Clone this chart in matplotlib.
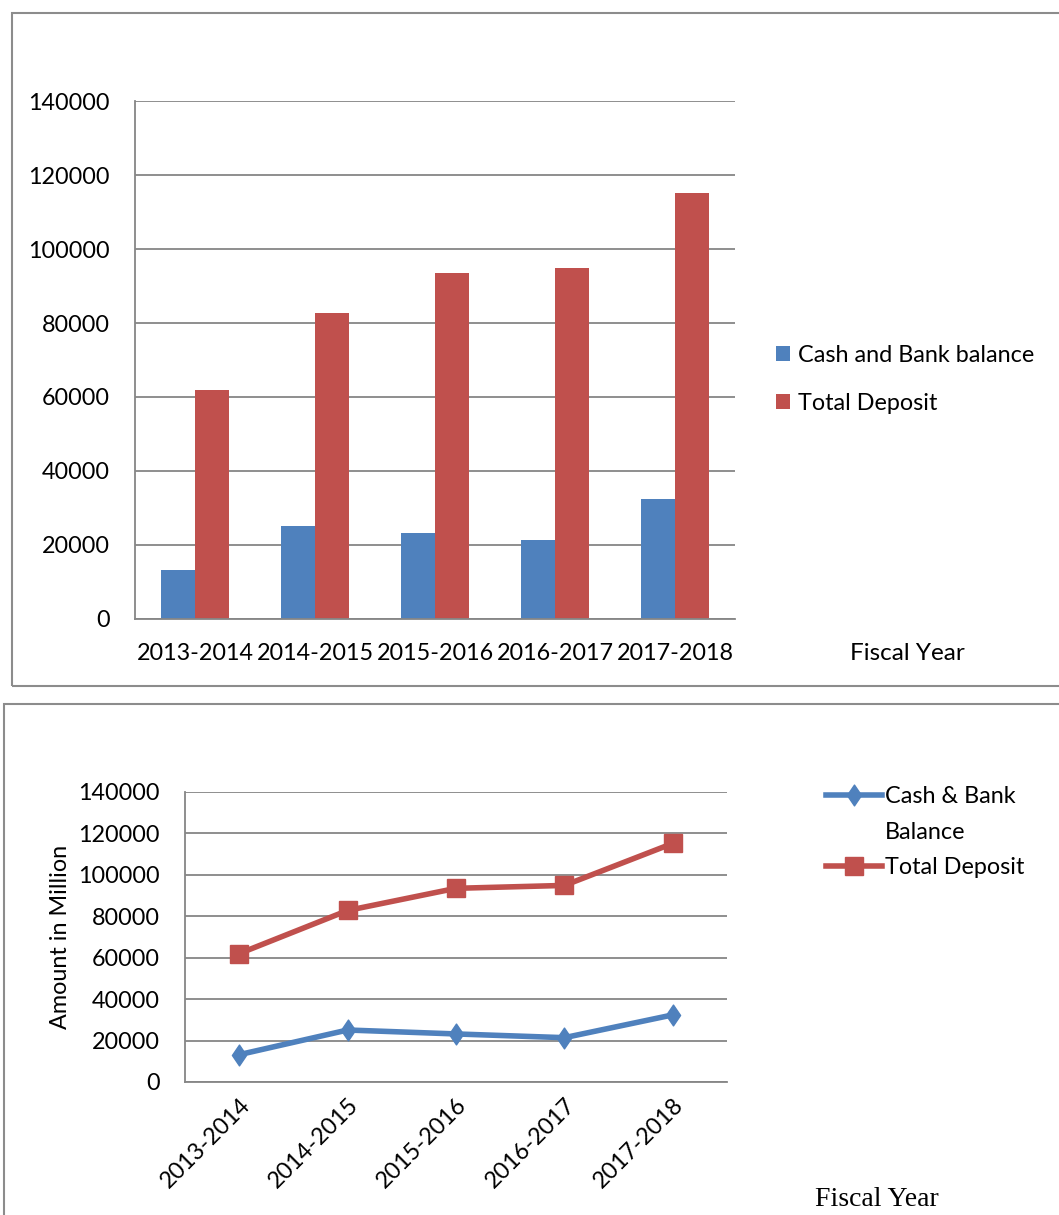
import matplotlib
matplotlib.use("Agg")
import matplotlib.pyplot as plt
from matplotlib.patches import Rectangle
from matplotlib.lines import Line2D
from matplotlib.path import Path
import numpy as np

# Fiscal years and balances (amount in million)
years = ["2013-2014", "2014-2015", "2015-2016", "2016-2017", "2017-2018"]
cash_bank = [13200, 25100, 23200, 21400, 32400]
total_deposit = [62000, 82800, 93500, 94900, 115200]
y_ticks = [0, 20000, 40000, 60000, 80000, 100000, 120000, 140000]

BLUE = "#4F81BD"
RED = "#C0504D"
GRID = "#868686"
BORDER = "#8C8C8C"
SANS = ["Lato", "DejaVu Sans"]
SERIF = ["Liberation Serif", "DejaVu Serif"]
FS = 16.8

# Tall, narrow diamond marker
DIAMOND = Path([(0, 1), (0.68, 0), (0, -1), (-0.68, 0), (0, 1)],
               [Path.MOVETO, Path.LINETO, Path.LINETO, Path.LINETO, Path.CLOSEPOLY])

W, H = 1059, 1215
fig = plt.figure(figsize=(W / 100, H / 100), dpi=100)


def px_axes(left, top, right, bottom):
    return fig.add_axes([left / W, 1 - bottom / H, (right - left) / W, (bottom - top) / H])


def style_axes(ax):
    ax.set_ylim(0, 140000)
    ax.set_yticks(y_ticks)
    ax.set_yticklabels([str(v) for v in y_ticks], fontsize=FS, family=SANS)
    ax.yaxis.grid(True, color=GRID, linewidth=1.3)
    ax.set_axisbelow(True)
    for s in ("top", "right"):
        ax.spines[s].set_visible(False)
    for s in ("left", "bottom"):
        ax.spines[s].set_color(GRID)
        ax.spines[s].set_linewidth(1.3)
    ax.tick_params(axis="both", length=0)
    ax.tick_params(axis="y", pad=18)


# Chart frames
fig.add_artist(Rectangle((12 / W, 1 - 686 / H), 1.2, (686 - 13) / H,
                         transform=fig.transFigure, fill=False,
                         edgecolor=BORDER, linewidth=1.5))
fig.add_artist(Rectangle((4 / W, -0.1), 1.2, 0.1 + (1 - 704 / H),
                         transform=fig.transFigure, fill=False,
                         edgecolor=BORDER, linewidth=1.5))

# --- Clustered bar chart ---
ax1 = px_axes(135, 101, 735, 619)
x = np.arange(len(years))
bw = 0.283
ax1.bar(x - bw / 2, cash_bank, width=bw, color=BLUE, label="Cash and Bank balance")
ax1.bar(x + bw / 2, total_deposit, width=bw, color=RED, label="Total Deposit")
ax1.set_xlim(-0.5, len(years) - 0.5)
style_axes(ax1)
ax1.set_xticks(x)
ax1.set_xticklabels(years, fontsize=FS, family=SANS)
ax1.tick_params(axis="x", pad=17)
ax1.legend(loc="center left", bbox_to_anchor=(1.033, 0.463), frameon=False,
           prop={"family": SANS, "size": FS}, handlelength=0.6, handleheight=0.6,
           handletextpad=0.35, labelspacing=1.17)
fig.text(907 / W, 1 - 653 / H, "Fiscal Year", fontsize=17.5, family=SANS,
         ha="center", va="center")

# --- Line chart ---
ax2 = px_axes(185, 792, 727, 1082)
cash_line, = ax2.plot(x, cash_bank, color=BLUE, linewidth=4, marker=DIAMOND,
                      markersize=15)
dep_line, = ax2.plot(x, total_deposit, color=RED, linewidth=4, marker="s",
                     markersize=13.5)
ax2.set_xlim(-0.5, len(years) - 0.5)
style_axes(ax2)
ax2.set_xticks(x)
ax2.set_xticklabels(years, fontsize=FS, family=SANS, rotation=45,
                    ha="right", rotation_mode="anchor")
ax2.tick_params(axis="x", pad=9)
ax2.set_ylabel("Amount in Million", fontsize=FS, family=SANS, labelpad=5)

# Legend: the first label wraps onto a second line with no handle
blank = Line2D([], [], linestyle="none", marker="none")
ax2.legend([cash_line, blank, dep_line], ["Cash & Bank", "Balance", "Total Deposit"],
           loc="upper left", bbox_to_anchor=(1.143, 1.092), frameon=False,
           prop={"family": SANS, "size": FS}, handlelength=2.4,
           handletextpad=0.13, labelspacing=0.62)
fig.text(877 / W, 1 - 1199 / H, "Fiscal Year", fontsize=20, family=SERIF,
         ha="center", va="center")

fig.savefig("out.png", dpi=100)
